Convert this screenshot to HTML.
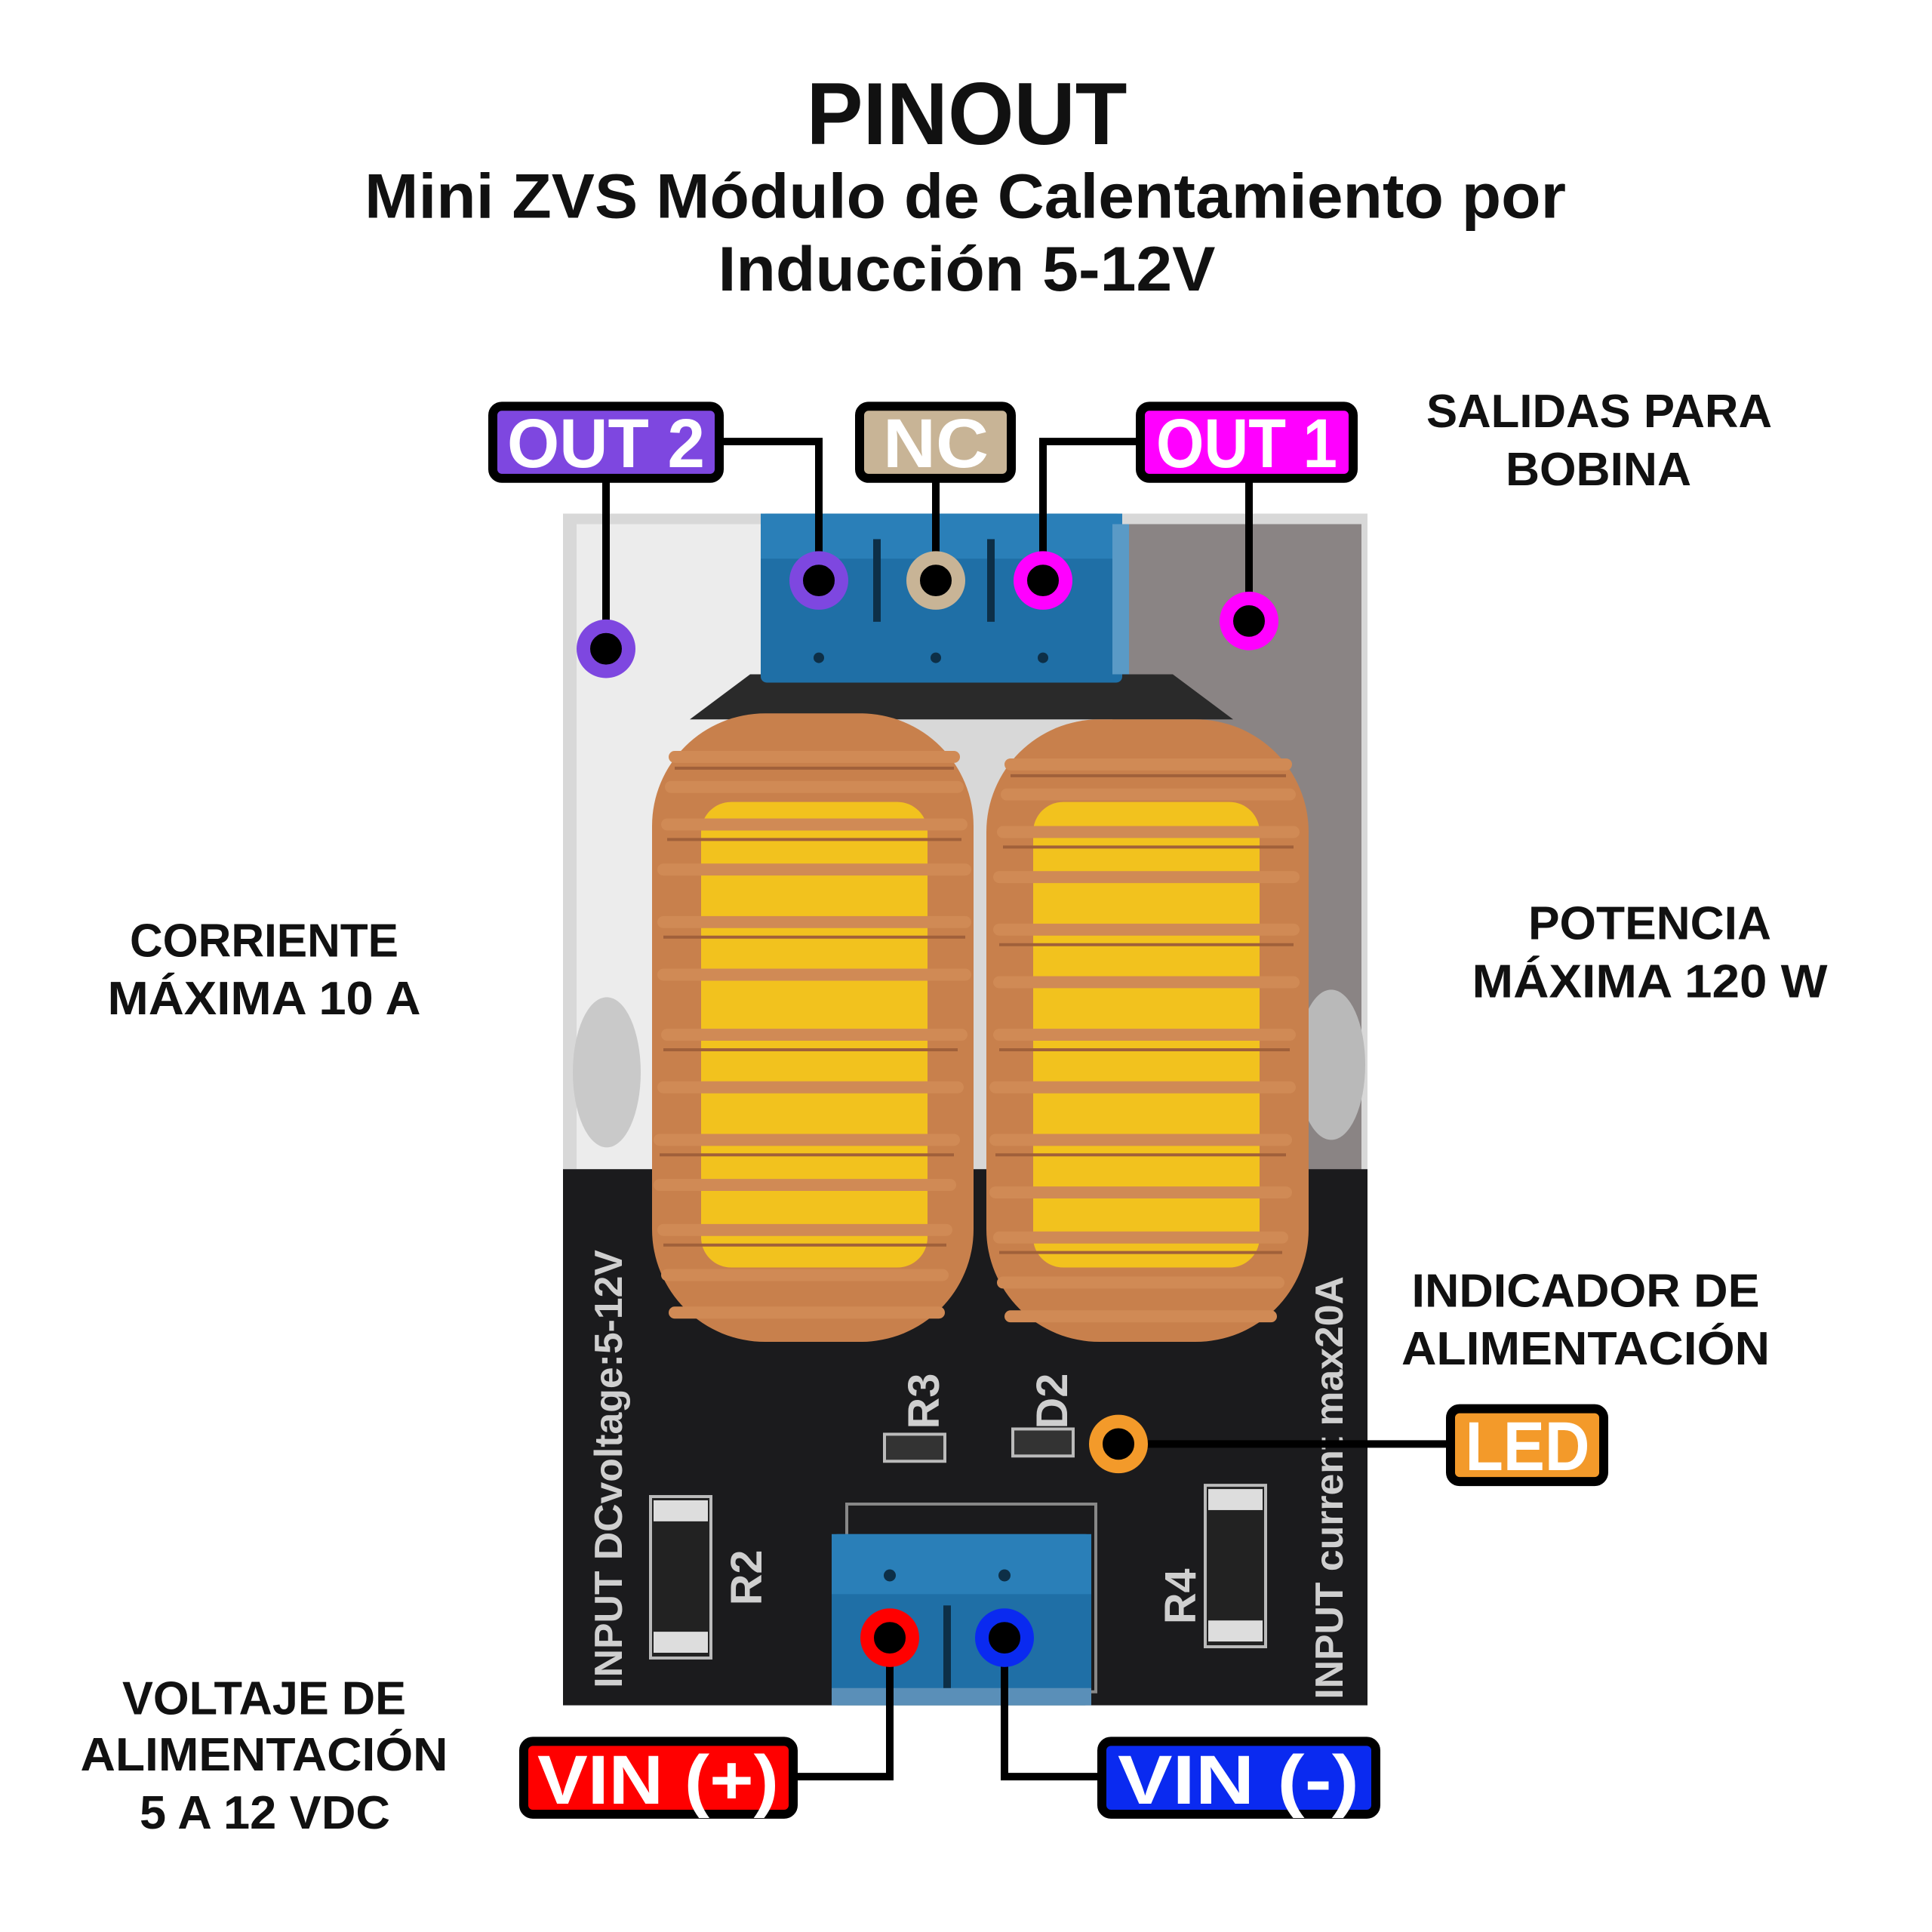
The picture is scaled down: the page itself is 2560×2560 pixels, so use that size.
<!DOCTYPE html>
<html><head><meta charset="utf-8"><style>
html,body{margin:0;padding:0;background:#fff;}
svg{display:block;}
text{font-family:"Liberation Sans",sans-serif;font-weight:bold;}
</style></head><body>
<svg width="2560" height="2560" viewBox="0 0 2560 2560" xmlns="http://www.w3.org/2000/svg">
<rect width="2560" height="2560" fill="#fff"/>
<g transform="translate(-6,-2) scale(1,0.995)">
<!-- Title -->
<text x="1287" y="194" font-size="118" text-anchor="middle" textLength="425" lengthAdjust="spacingAndGlyphs" fill="#111">PINOUT</text>
<text x="1285" y="292" font-size="84" text-anchor="middle" textLength="1592" lengthAdjust="spacingAndGlyphs" fill="#111">Mini ZVS Módulo de Calentamiento por</text>
<text x="1287" y="389" font-size="84" text-anchor="middle" textLength="659" lengthAdjust="spacingAndGlyphs" fill="#111">Inducción 5-12V</text>

<!-- Board -->
<rect x="752" y="686" width="1066" height="873" fill="#d8d8d8"/>
<rect x="770" y="700" width="380" height="860" fill="#ececec"/>
<rect x="1480" y="700" width="330" height="860" fill="#8a8484"/>
<rect x="752" y="1559" width="1066" height="714" fill="#1b1b1d"/>
<polygon points="1000,900 1560,900 1640,960 920,960" fill="#2a2a2a"/>
<rect x="1014" y="686" width="479" height="225" rx="8" fill="#1f6fa6"/>
<rect x="1014" y="686" width="479" height="60" fill="#2a7fb8"/>
<rect x="1480" y="700" width="22" height="200" fill="#5a9ac6"/>
<rect x="1163" y="720" width="10" height="110" fill="#0d2f47"/>
<rect x="1314" y="720" width="10" height="110" fill="#0d2f47"/>
<circle cx="1091" cy="878" r="7" fill="#0d2f47"/><circle cx="1246" cy="878" r="7" fill="#0d2f47"/><circle cx="1388" cy="878" r="7" fill="#0d2f47"/>
<ellipse cx="810" cy="1430" rx="45" ry="100" fill="#c9c9c9"/>
<ellipse cx="1770" cy="1420" rx="45" ry="100" fill="#b9b9b9"/>

<!-- Toroids -->
<g>
<rect x="870" y="952" width="426" height="837" rx="150" fill="#c8804c"/>
<rect x="935" y="1070" width="300" height="620" rx="40" fill="#f2c21e"/>
<rect x="1313" y="960" width="427" height="829" rx="150" fill="#c8804c"/>
<rect x="1375" y="1070" width="300" height="620" rx="40" fill="#f2c21e"/>
<g stroke="#d08a55" stroke-width="16" fill="none" stroke-linecap="round">
<path d="M900 1010 H1270 M895 1050 H1275 M890 1100 H1280 M885 1160 H1285 M885 1230 H1285 M885 1300 H1285 M890 1380 H1280 M885 1450 H1275 M880 1520 H1270 M880 1580 H1265 M885 1640 H1260 M890 1700 H1255 M900 1750 H1250"/>
<path d="M1345 1020 H1710 M1340 1060 H1715 M1335 1110 H1720 M1330 1170 H1720 M1330 1240 H1720 M1330 1310 H1720 M1330 1380 H1715 M1325 1450 H1715 M1325 1520 H1710 M1325 1590 H1710 M1330 1650 H1705 M1335 1710 H1700 M1345 1755 H1690"/>
</g>
<g stroke="#a0603a" stroke-width="4" fill="none">
<path d="M900 1025 H1270 M890 1120 H1280 M885 1250 H1285 M885 1400 H1275 M880 1540 H1270 M885 1660 H1260"/>
<path d="M1345 1035 H1710 M1335 1130 H1720 M1330 1260 H1720 M1330 1400 H1715 M1325 1540 H1710 M1330 1670 H1705"/>
</g>
</g>

<!-- PCB silkscreen -->
<text transform="translate(830,2250) rotate(-90)" font-size="52" font-family="Liberation Mono,monospace" font-weight="normal" fill="#cfcfcf">INPUT DCvoltage:5-12V</text>
<text transform="translate(1785,2265) rotate(-90)" font-size="52" font-family="Liberation Mono,monospace" font-weight="normal" fill="#cfcfcf">INPUT current max20A</text>
<text transform="translate(1250,1905) rotate(-90)" font-size="58" font-family="Liberation Mono,monospace" font-weight="normal" fill="#cfcfcf">R3</text>
<text transform="translate(1420,1905) rotate(-90)" font-size="58" font-family="Liberation Mono,monospace" font-weight="normal" fill="#cfcfcf">D2</text>
<text transform="translate(1015,2140) rotate(-90)" font-size="58" font-family="Liberation Mono,monospace" font-weight="normal" fill="#cfcfcf">R2</text>
<text transform="translate(1590,2165) rotate(-90)" font-size="58" font-family="Liberation Mono,monospace" font-weight="normal" fill="#cfcfcf">R4</text>
<rect x="868" y="1995" width="80" height="215" fill="#222" stroke="#bbb" stroke-width="4"/>
<rect x="872" y="2000" width="72" height="28" fill="#ddd"/><rect x="872" y="2175" width="72" height="28" fill="#ddd"/>
<rect x="1603" y="1980" width="80" height="215" fill="#222" stroke="#bbb" stroke-width="4"/>
<rect x="1607" y="1985" width="72" height="28" fill="#ddd"/><rect x="1607" y="2160" width="72" height="28" fill="#ddd"/>
<rect x="1178" y="1912" width="80" height="36" fill="#333" stroke="#bbb" stroke-width="4"/>
<rect x="1348" y="1905" width="80" height="36" fill="#333" stroke="#bbb" stroke-width="4"/>
<rect x="1128" y="2005" width="330" height="250" fill="none" stroke="#888" stroke-width="4"/>
<rect x="1108" y="2045" width="344" height="228" rx="8" fill="#1f6fa6"/>
<rect x="1108" y="2045" width="344" height="80" fill="#2a7fb8"/>
<rect x="1108" y="2250" width="344" height="23" fill="#5a8fb8"/>
<rect x="1256" y="2140" width="10" height="110" fill="#0d2f47"/>
<circle cx="1185" cy="2100" r="8" fill="#0d2f47"/><circle cx="1337" cy="2100" r="8" fill="#0d2f47"/>

<!-- Connector lines -->
<g stroke="#000" stroke-width="10" fill="none" stroke-linecap="square">
<path d="M965 590 H1091 V775"/>
<path d="M809 645 V866"/>
<path d="M1246 645 V775"/>
<path d="M1511 590 H1388 V775"/>
<path d="M1661 645 V829"/>
<path d="M1488 1925 H1922"/>
<path d="M1063 2368 H1185 V2183"/>
<path d="M1337 2183 V2368 H1460"/>
</g>
<g stroke-width="18">
<circle cx="809" cy="866" r="30" fill="#000" stroke="#7e47e0"/>
<circle cx="1091" cy="775" r="30" fill="#000" stroke="#7e47e0"/>
<circle cx="1246" cy="775" r="30" fill="#000" stroke="#c8b496"/>
<circle cx="1388" cy="775" r="30" fill="#000" stroke="#ff00ff"/>
<circle cx="1661" cy="829" r="30" fill="#000" stroke="#ff00ff"/>
<circle cx="1488" cy="1925" r="30" fill="#000" stroke="#f39a2a"/>
<circle cx="1185" cy="2183" r="30" fill="#000" stroke="#ff0000"/>
<circle cx="1337" cy="2183" r="30" fill="#000" stroke="#0a2af0"/>
</g>

<g stroke="#000" stroke-width="12">
<rect x="659" y="543" width="300" height="96" rx="12" fill="#7e47e0"/>
<rect x="1145" y="543" width="201" height="96" rx="12" fill="#c8b496"/>
<rect x="1517" y="543" width="282" height="96" rx="12" fill="#ff00ff"/>
<rect x="1928" y="1878" width="203" height="97" rx="12" fill="#f39a2a"/>
<rect x="700" y="2321" width="357" height="97" rx="12" fill="#ff0000"/>
<rect x="1466" y="2321" width="363" height="97" rx="12" fill="#0a2af0"/>
</g>
<g fill="#fff" font-size="92" text-anchor="middle">
<text x="809" y="624" textLength="262" lengthAdjust="spacingAndGlyphs">OUT 2</text>
<text x="1246" y="624" textLength="140" lengthAdjust="spacingAndGlyphs">NC</text>
<text x="1658" y="624" textLength="240" lengthAdjust="spacingAndGlyphs">OUT 1</text>
<text x="2030" y="1960" textLength="165" lengthAdjust="spacingAndGlyphs">LED</text>
<text x="878" y="2404" textLength="320" lengthAdjust="spacingAndGlyphs">VIN (+)</text>
<text x="1647" y="2404" textLength="320" lengthAdjust="spacingAndGlyphs">VIN (-)</text>
</g>

<g fill="#111" font-size="62" text-anchor="middle">
<text x="2125" y="571" textLength="458" lengthAdjust="spacingAndGlyphs">SALIDAS PARA</text>
<text x="2124" y="648" textLength="246" lengthAdjust="spacingAndGlyphs">BOBINA</text>
<text x="356" y="1276" textLength="356" lengthAdjust="spacingAndGlyphs">CORRIENTE</text>
<text x="356" y="1353" textLength="415" lengthAdjust="spacingAndGlyphs">MÁXIMA 10 A</text>
<text x="2192" y="1253" textLength="322" lengthAdjust="spacingAndGlyphs">POTENCIA</text>
<text x="2192" y="1330" textLength="471" lengthAdjust="spacingAndGlyphs">MÁXIMA 120 W</text>
<text x="2107" y="1742" textLength="461" lengthAdjust="spacingAndGlyphs">INDICADOR DE</text>
<text x="2107" y="1819" textLength="488" lengthAdjust="spacingAndGlyphs">ALIMENTACIÓN</text>
<text x="356" y="2285" textLength="376" lengthAdjust="spacingAndGlyphs">VOLTAJE DE</text>
<text x="356" y="2360" textLength="487" lengthAdjust="spacingAndGlyphs">ALIMENTACIÓN</text>
<text x="357" y="2437" textLength="332" lengthAdjust="spacingAndGlyphs">5 A 12 VDC</text>
</g>
</g>
</svg>
</body></html>
